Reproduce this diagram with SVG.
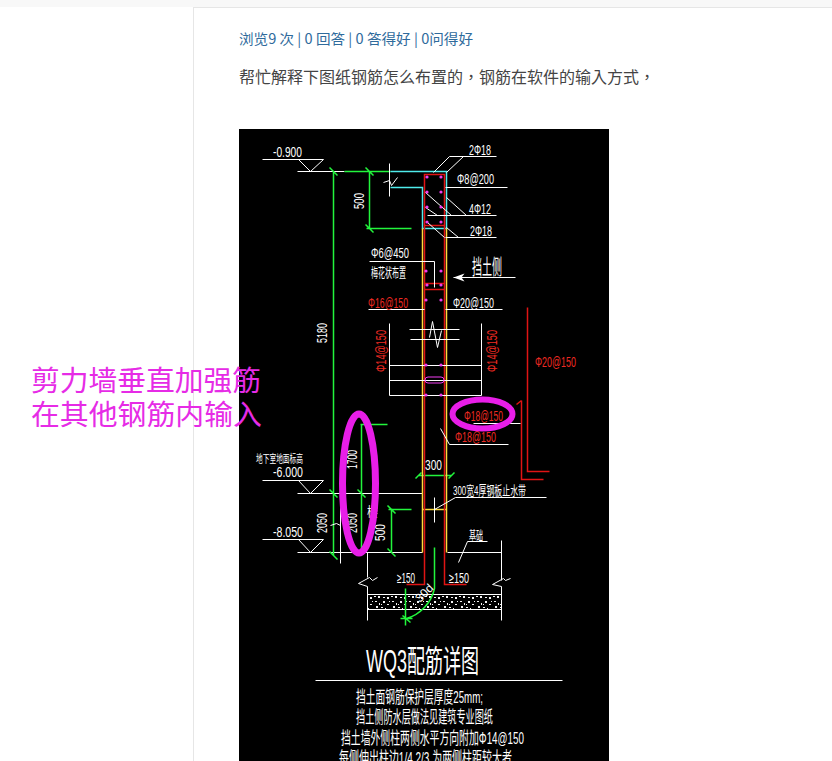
<svg xmlns="http://www.w3.org/2000/svg" width="832" height="761" viewBox="0 0 832 761">
<style>
.w{stroke:#fff;fill:none;stroke-width:1}
.g{stroke:#22f53c;fill:none;stroke-width:1.500}
.c{stroke:#4fecec;fill:none;stroke-width:1.500}
.y{stroke:#ffdc3c;fill:none;stroke-width:1.500}
.r{stroke:#e01414;fill:none;stroke-width:1.500}
.m{fill:#f03cf0}
.t{font-family:"Liberation Sans","Noto Sans CJK SC",sans-serif;fill:#fff;font-size:14px}
.h{font-family:"Liberation Sans","Noto Sans CJK SC",sans-serif;fill:#fff;font-size:13px}
.rt{fill:#ee2a22}
.b{font-size:17px}
.ov{fill:none;stroke:#e81ee8}
.note{font-family:"Liberation Serif","Noto Sans CJK SC",serif;font-size:28.500px;fill:#e62be6}
</style>
<defs>
<pattern id="speck" width="17" height="15" patternUnits="userSpaceOnUse">
<rect width="17" height="15" fill="#000"/>
<g fill="#f4f4f4"><rect x="1" y="1" width="2" height="1"/><rect x="5" y="3" width="1" height="2"/><rect x="9" y="1" width="2" height="2"/><rect x="13" y="4" width="2" height="1"/><rect x="2" y="6" width="2" height="2"/><rect x="7" y="7" width="2" height="1"/><rect x="11" y="8" width="1" height="2"/><rect x="15" y="9" width="2" height="1"/><rect x="0" y="11" width="2" height="1"/><rect x="4" y="11" width="2" height="2"/><rect x="9" y="12" width="2" height="1"/><rect x="13" y="12" width="2" height="2"/><rect x="7" y="4" width="1" height="1"/><rect x="15" y="1" width="1" height="1"/></g>
</pattern>
</defs>
<rect width="832" height="761" fill="#fff"/>
<rect width="832" height="7" fill="#f8f8f8"/>
<path d="M193 7.500H832M193.500 7V761" stroke="#e6e6e6" fill="none"/>
<text x="239" y="44" font-family="Noto Sans CJK SC,sans-serif" font-size="14" fill="#2f6b9c" textLength="234" lengthAdjust="spacingAndGlyphs">浏览9 次 | 0 回答 | 0 答得好 | 0问得好</text>
<text x="239" y="83" font-family="Noto Sans CJK TC,sans-serif" font-size="16" fill="#444">帮忙解释下图纸钢筋怎么布置的，钢筋在软件的输入方式，</text>
<rect x="239" y="129" width="370" height="632" fill="#000"/>
<rect x="367" y="594" width="134" height="15" fill="url(#speck)"/>
<g id="connectors" transform="translate(.5 .5)">
<path class="w" d="M262 159H323L310 171L298 159M297 171H344M262 480H323L310 493L298 480M297 493H422M262 539H323L310 552L298 539M297 552H422M447 552H501"/>
<path class="g" d="M333 171V555M344 171H390M369 171V228M366 228H411M361 424V555M360 424H387M391 508V552M388 509H411M418 475H451M329 167L337 175M365 167L373 175M365 224L373 232M329 489L337 497M357 489L365 497M387 505L395 513M387 548L395 556M329 551L337 559M415 478L421 472M448 478L454 472"/>
<path class="c" d="M390 171H446V228H422V187H390"/>
<path class="y" d="M422 228V552M446 228V552M422 509H446"/>
<path class="r" d="M424 174H444V225H424ZM424 225V584H406M444 225V584H466M424 283H444V289H424M527 307V471H549M521 400V479H543M521 400L516 404"/>
<path class="w" d="M389 163V196M383 182L389 180L391 185L397 177M496 156H449L433 172M463 156L446 172M445 187H507M427 215H496M446 197L466 215M425 192L451 215M425 207L437 215M496 237H445M446 227L458 237M427 222L444 237M369 261H434V287M453 277H515M368 309H424M445 309H502M409 329H459M410 339H459M429 337L432 321L437 347L441 330M389 323V395H481V323M389 365H481M389 380H481M473 423H520M508 444H449L440 428M434 497V522M434 509L455 497H546M340 506V563M330 525L336 523L340 525M367 552V577M358 583L369 577L372 580L377 577M358 583L367 586V620M501 540V580M492 584L503 578L505 580L510 578M492 584L501 586V620M367 594H501M367 609H501M458 562L467 541H487M315 680H562"/>
<path d="M453 277L464 273L461 277L464 281Z" fill="#fff"/>
<path class="g" d="M434 547V588C431 602 420 614 406 618M405 588V625M400 618H412M402 615L410 622"/>
</g>
<g id="rebar-dots" class="m">
<circle cx="427" cy="177" r="1.600"/><circle cx="441" cy="177" r="1.600"/><circle cx="427" cy="192" r="1.600"/><circle cx="441" cy="192" r="1.600"/><circle cx="427" cy="207" r="1.600"/><circle cx="441" cy="207" r="1.600"/><circle cx="427" cy="222" r="1.600"/><circle cx="441" cy="222" r="1.600"/>
<circle cx="426" cy="271" r="1.600"/><circle cx="441" cy="271" r="1.600"/><circle cx="427" cy="285" r="1.600"/><circle cx="441" cy="285" r="1.600"/><circle cx="426" cy="300" r="1.600"/><circle cx="441" cy="300" r="1.600"/>
<circle cx="426" cy="365" r="1.600"/><circle cx="441" cy="365" r="1.600"/><circle cx="426" cy="395" r="1.600"/><circle cx="441" cy="395" r="1.600"/>
<rect x="425" y="377" width="19" height="6" rx="3" fill="none" stroke="#f03cf0"/>
</g>
<g id="labels">
<text class="t" x="273" y="157" textLength="29" lengthAdjust="spacingAndGlyphs">-0.900</text>
<text class="t" x="469" y="155" textLength="22" lengthAdjust="spacingAndGlyphs">2Φ18</text>
<text class="t" x="457" y="184" textLength="37" lengthAdjust="spacingAndGlyphs">Φ8@200</text>
<text class="t" x="469" y="214" textLength="22" lengthAdjust="spacingAndGlyphs">4Φ12</text>
<text class="t" x="470" y="236" textLength="22" lengthAdjust="spacingAndGlyphs">2Φ18</text>
<text class="t" transform="translate(364,209) rotate(-90)" textLength="16" lengthAdjust="spacingAndGlyphs">500</text>
<text class="t" transform="translate(327,343) rotate(-90)" textLength="20" lengthAdjust="spacingAndGlyphs">5180</text>
<text class="t" x="371" y="258" textLength="38" lengthAdjust="spacingAndGlyphs">Φ6@450</text>
<text class="h" x="371" y="277" textLength="35" lengthAdjust="spacingAndGlyphs">梅花状布置</text>
<text class="h" x="472" y="274" textLength="30" lengthAdjust="spacingAndGlyphs" style="font-size:21px">挡土侧</text>
<text class="t rt" x="368" y="308" textLength="40" lengthAdjust="spacingAndGlyphs">Φ16@150</text>
<text class="t" x="453" y="308" textLength="41" lengthAdjust="spacingAndGlyphs">Φ20@150</text>
<text class="t rt" transform="translate(386,372) rotate(-90)" textLength="42" lengthAdjust="spacingAndGlyphs">Φ14@150</text>
<text class="t rt" transform="translate(497,372) rotate(-90)" textLength="42" lengthAdjust="spacingAndGlyphs">Φ14@150</text>
<text class="t rt" x="535" y="367" textLength="41" lengthAdjust="spacingAndGlyphs">Φ20@150</text>
<text class="t rt" x="464" y="421" textLength="39" lengthAdjust="spacingAndGlyphs">Φ18@150</text>
<text class="t rt" x="455" y="442" textLength="41" lengthAdjust="spacingAndGlyphs">Φ18@150</text>
<text class="h" x="256" y="462.500" textLength="47" lengthAdjust="spacingAndGlyphs" style="font-size:11px">地下室地面标高</text>
<text class="t" x="273" y="477" textLength="30" lengthAdjust="spacingAndGlyphs">-6.000</text>
<text class="t" x="273" y="537" textLength="30" lengthAdjust="spacingAndGlyphs">-8.050</text>
<text class="t" transform="translate(357,469) rotate(-90)" textLength="19" lengthAdjust="spacingAndGlyphs">1700</text>
<text class="t" transform="translate(327,533) rotate(-90)" textLength="20" lengthAdjust="spacingAndGlyphs">2050</text>
<text class="t" transform="translate(357,533) rotate(-90)" textLength="20" lengthAdjust="spacingAndGlyphs">2050</text>
<text class="t" transform="translate(385,541) rotate(-90)" textLength="17" lengthAdjust="spacingAndGlyphs">500</text>
<text class="h" x="367" y="516" textLength="11" lengthAdjust="spacingAndGlyphs">楼</text>
<text class="t" x="425" y="470" textLength="17" lengthAdjust="spacingAndGlyphs">300</text>
<text class="h" x="453" y="495" textLength="73" lengthAdjust="spacingAndGlyphs">300宽4厚钢板止水带</text>
<text class="h" x="469" y="540" textLength="14" lengthAdjust="spacingAndGlyphs">基础</text>
<text class="t" x="397" y="583" textLength="18" lengthAdjust="spacingAndGlyphs">≥150</text>
<text class="t" x="449" y="583" textLength="20" lengthAdjust="spacingAndGlyphs">≥150</text>
<text class="t" transform="translate(420,603) rotate(-45)" textLength="20" lengthAdjust="spacingAndGlyphs" style="font-size:12px">30d</text>
<text class="h" x="366" y="672" textLength="113" lengthAdjust="spacingAndGlyphs" style="font-size:31px">WQ3配筋详图</text>
<text class="h b" x="356" y="703" textLength="127" lengthAdjust="spacingAndGlyphs">挡土面钢筋保护层厚度25mm;</text>
<text class="h b" x="356" y="723" textLength="137" lengthAdjust="spacingAndGlyphs">挡土侧防水层做法见建筑专业图纸</text>
<text class="h b" x="341" y="744" textLength="183" lengthAdjust="spacingAndGlyphs">挡土墙外侧柱两侧水平方向附加Φ14@150</text>
<text class="h b" x="339" y="764" textLength="173" lengthAdjust="spacingAndGlyphs">每侧伸出柱边1/4 2/3 为两侧柱距较大者</text>
</g>
<g id="annotations">
<ellipse class="ov" cx="482.500" cy="414" rx="30" ry="14.500" stroke-width="6"/>
<ellipse class="ov" cx="359" cy="483.500" rx="16.500" ry="69.500" stroke-width="7"/>
<text class="note" x="31" y="391" textLength="230" lengthAdjust="spacingAndGlyphs">剪力墙垂直加强筋</text>
<text class="note" x="31" y="425" textLength="231" lengthAdjust="spacingAndGlyphs">在其他钢筋内输入</text>
</g>
</svg>
